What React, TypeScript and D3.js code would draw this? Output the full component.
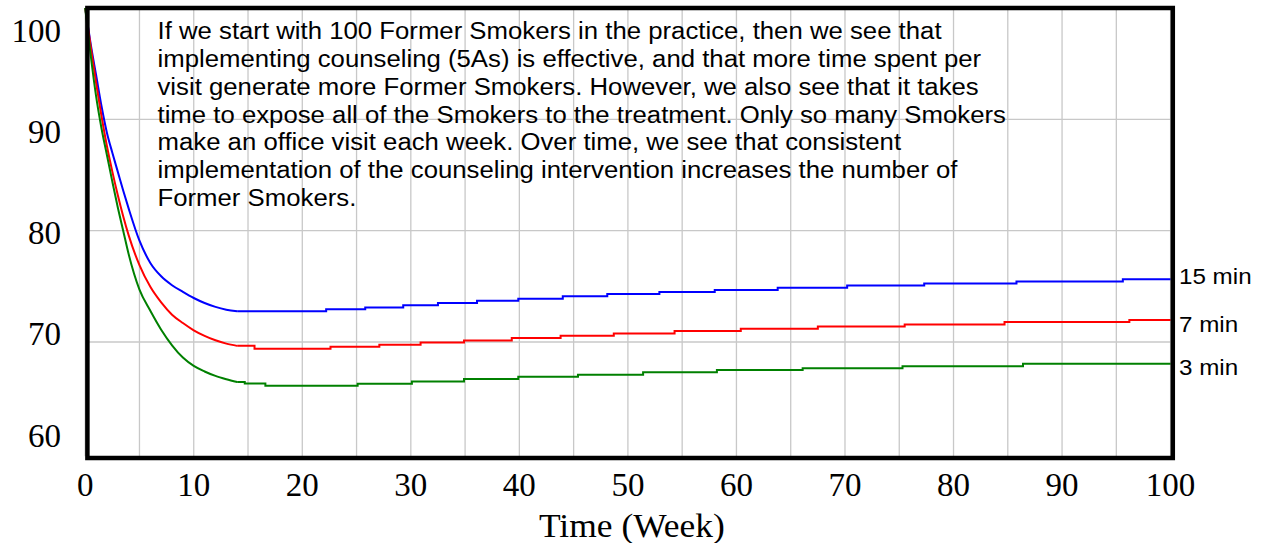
import React from 'react';
import * as d3 from 'd3';

// ---- data ----
const xTicks = [0, 10, 20, 30, 40, 50, 60, 70, 80, 90, 100];
const yTicks = [100, 90, 80, 70, 60];
const xGrid = d3.range(0, 101, 5);
const yGrid = [90, 80, 70];

const declineWeeks = [0, 0.5, 1, 1.5, 2, 2.5, 3, 3.5, 4, 5, 6, 7, 8, 9, 10, 11, 12, 13, 14];
const decline15 = [100, 96.8, 94.0, 91.2, 88.8, 87.0, 85.3, 83.6, 82.0, 79.1, 77.1, 75.9, 75.1, 74.5, 73.95, 73.5, 73.15, 72.9, 72.75];
const decline7 = [100, 96.6, 93.3, 90.3, 87.6, 85.3, 83.2, 81.3, 79.6, 76.9, 74.95, 73.55, 72.45, 71.7, 71.05, 70.55, 70.15, 69.85, 69.65];
const decline3 = [100, 95.8, 92.1, 89.2, 86.8, 84.4, 82.1, 80.0, 77.9, 74.7, 72.8, 71.1, 69.7, 68.6, 67.85, 67.35, 66.95, 66.65, 66.4];

const stepWeeks15 = [14, 22.2, 25.8, 29.3, 32.5, 36.1, 39.9, 44.0, 48.1, 52.9, 58.0, 63.8, 70.2, 77.3, 85.8, 95.6, 100];
const stepLevels15 = [72.75, 72.93, 73.1, 73.3, 73.5, 73.7, 73.88, 74.1, 74.3, 74.48, 74.66, 74.87, 75.08, 75.26, 75.44, 75.64, 75.64];
const stepWeeks7 = [14, 15.6, 22.6, 27.1, 30.9, 34.9, 39.3, 43.8, 48.7, 54.3, 60.4, 67.5, 75.5, 84.7, 96.2, 100];
const stepLevels7 = [69.65, 69.4, 69.57, 69.76, 69.95, 70.14, 70.35, 70.56, 70.77, 70.98, 71.19, 71.4, 71.58, 71.79, 71.97, 71.97];
const stepWeeks3 = [14, 14.7, 16.6, 25.1, 30.1, 34.9, 39.9, 45.4, 51.4, 58.2, 66.1, 75.3, 86.4, 100];
const stepLevels3 = [66.4, 66.28, 66.07, 66.25, 66.46, 66.67, 66.87, 67.05, 67.27, 67.48, 67.65, 67.83, 68.04, 68.04];

const seriesNames = ['15 min', '7 min', '3 min'];
const seriesColors = ['#0000ff', '#ff0000', '#008000'];
const declines = [decline15, decline7, decline3];
const stepWeeks = [stepWeeks15, stepWeeks7, stepWeeks3];
const stepLevels = [stepLevels15, stepLevels7, stepLevels3];
const labelOffsets = [5, 12, 11];

const noteLines = [
  'If we start with 100 Former Smokers in the practice, then we see that',
  'implementing counseling (5As) is effective, and that more time spent per',
  'visit generate more Former Smokers. However, we also see that it takes',
  'time to expose all of the Smokers to the treatment. Only so many Smokers',
  'make an office visit each week. Over time, we see that consistent',
  'implementation of the counseling intervention increases the number of',
  'Former Smokers.',
];
const xTitle = 'Time (Week)';

export default function App() {
  const W = 1263, H = 543;
  const x = d3.scaleLinear().domain([0, 100]).range([85.2, 1170.6]);
  const y = d3.scaleLinear().domain([60, 100]).range([453.3, 8]);
  const yLab = d3.scaleLinear().domain([60, 100]).range([446.5, 41.5]);

  const smooth = d3.line<[number, number]>().x(d => x(d[0])).y(d => y(d[1])).curve(d3.curveMonotoneX);
  const stepped = d3.line<[number, number]>().x(d => x(d[0])).y(d => y(d[1])).curve(d3.curveStepAfter);

  const serif = '"Liberation Serif", "Times New Roman", serif';
  const sans = '"Liberation Sans", Arial, sans-serif';
  const titleX = (x(0) + x(100)) / 2 + 4;

  return (
    <svg width={W} height={H} style={{ position: 'absolute', left: 0, top: 0, background: '#fff' }}>
      <rect x={0} y={0} width={W} height={H} fill="#fff" />
      {xGrid.map(v => (
        <line key={'gx' + v} x1={x(v)} x2={x(v)} y1={y(100)} y2={y(60) + 3} stroke="#c8c8c8" strokeWidth={1.3} />
      ))}
      {yGrid.map(v => (
        <line key={'gy' + v} x1={x(0)} x2={x(100)} y1={y(v)} y2={y(v)} stroke="#c8c8c8" strokeWidth={1.3} />
      ))}
      <g fontFamily={sans} fontSize={23.2} fill="#000" transform="translate(157.5,0) scale(1.11,1)">
        {noteLines.map((t, i) => (
          <text key={i} x={0} y={39.3 + i * 27.8}>{t}</text>
        ))}
      </g>
      {seriesNames.map((n, i) => {
        const dec: [number, number][] = declineWeeks.map((w, j) => [w, declines[i][j]]);
        const st: [number, number][] = stepWeeks[i].map((w, j) => [w, stepLevels[i][j]]);
        return (
          <g key={n} fill="none" stroke={seriesColors[i]} strokeWidth={2}>
            <path d={smooth(dec) || ''} />
            <path d={stepped(st) || ''} />
          </g>
        );
      })}
      <rect x={x(0) + 2.2} y={y(100)} width={x(100) - x(0)} height={y(60) - y(100) + 4.7} fill="none" stroke="#000" strokeWidth={4.5} />
      <g fontFamily={serif} fontSize={33} fill="#000">
        {yTicks.map(v => (
          <text key={'yt' + v} x={61} y={yLab(v)} textAnchor="end">{v}</text>
        ))}
        {xTicks.map(v => (
          <text key={'xt' + v} x={x(v)} y={496} textAnchor="middle">{v}</text>
        ))}
        <g transform={`translate(${titleX},537) scale(1.075,1)`}>
          <text x={0} y={0} textAnchor="middle">{xTitle}</text>
        </g>
      </g>
      <g fontFamily={sans} fontSize={22} fill="#000">
        {seriesNames.map((n, i) => {
          const lv = stepLevels[i];
          return (
            <g key={'lab' + n} transform={`translate(1179,${y(lv[lv.length - 1]) + labelOffsets[i]}) scale(1.1,1)`}>
              <text x={0} y={0}>{n}</text>
            </g>
          );
        })}
      </g>
    </svg>
  );
}
